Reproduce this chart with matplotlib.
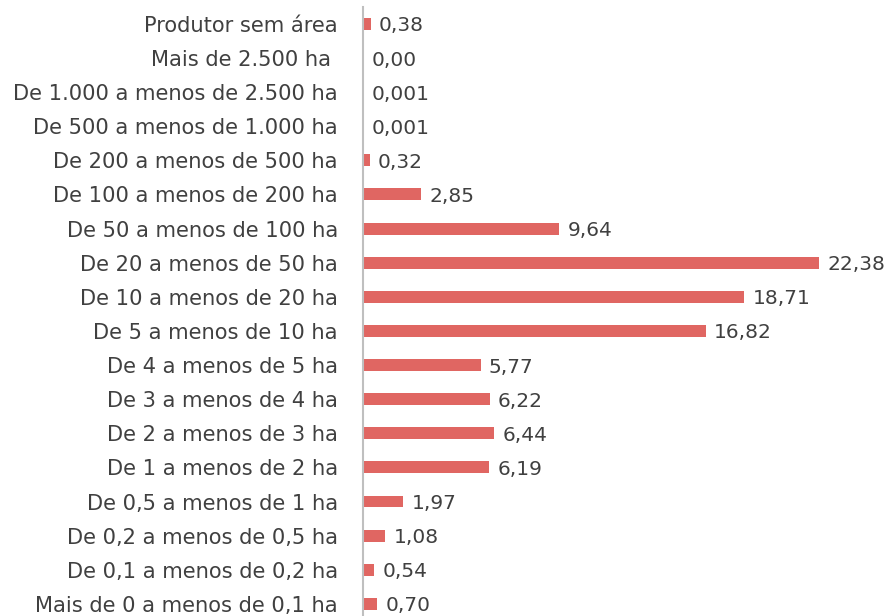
import matplotlib
matplotlib.use("Agg")
import matplotlib.pyplot as plt

# farm size classes, bottom to top as drawn
categories = [
    "Mais de 0 a menos de 0,1 ha",
    "De 0,1 a menos de 0,2 ha",
    "De 0,2 a menos de 0,5 ha",
    "De 0,5 a menos de 1 ha",
    "De 1 a menos de 2 ha",
    "De 2 a menos de 3 ha",
    "De 3 a menos de 4 ha",
    "De 4 a menos de 5 ha",
    "De 5 a menos de 10 ha",
    "De 10 a menos de 20 ha",
    "De 20 a menos de 50 ha",
    "De 50 a menos de 100 ha",
    "De 100 a menos de 200 ha",
    "De 200 a menos de 500 ha",
    "De 500 a menos de 1.000 ha",
    "De 1.000 a menos de 2.500 ha",
    "Mais de 2.500 ha ",
    "Produtor sem área",
]
values = [0.70, 0.54, 1.08, 1.97, 6.19, 6.44, 6.22, 5.77, 16.82, 18.71,
          22.38, 9.64, 2.85, 0.32, 0.001, 0.001, 0.00, 0.38]
value_labels = ["0,70", "0,54", "1,08", "1,97", "6,19", "6,44", "6,22", "5,77",
                "16,82", "18,71", "22,38", "9,64", "2,85", "0,32", "0,001",
                "0,001", "0,00", "0,38"]

bar_color = "#E06662"
text_color = "#404040"

plt.rcParams["font.family"] = ["DejaVu Sans"]

fig = plt.figure(figsize=(8.86, 6.16), dpi=100)
ax = fig.add_axes([0.4097, -0.008, 0.5903, 0.997])

pos = list(range(len(categories)))
ax.barh(pos, values, height=0.35, color=bar_color)

for y, v, lab in zip(pos, values, value_labels):
    ax.annotate(lab, (v, y), xytext=(6, -1.5), textcoords="offset points",
                va="center", ha="left", fontsize=14.5, color=text_color)

ax.set_yticks(pos)
ax.set_yticklabels(categories, fontsize=15.1, color=text_color)
ax.tick_params(axis="y", length=0, pad=18)
ax.set_xticks([])
ax.set_xlim(0, 25.67)
ax.set_ylim(-0.5, len(categories) - 0.5)

for side in ["top", "right", "bottom"]:
    ax.spines[side].set_visible(False)
ax.spines["left"].set_color("#BFBFBF")
ax.spines["left"].set_linewidth(1.5)

fig.savefig("out.png", dpi=100)
